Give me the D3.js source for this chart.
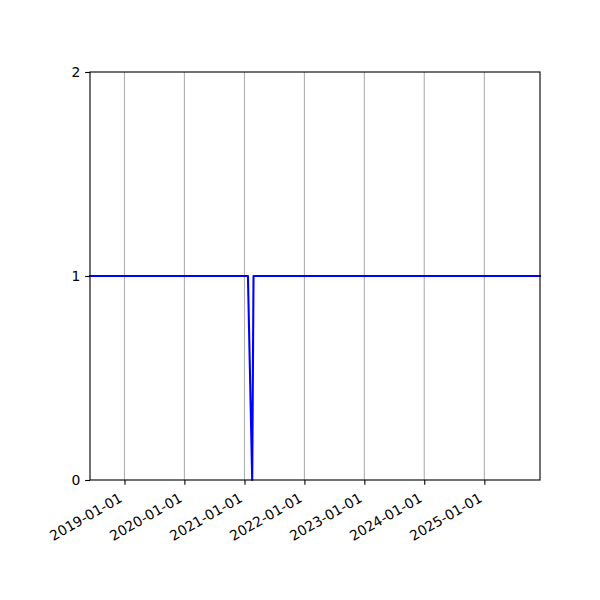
<!DOCTYPE html>
<html>
<head>
<meta charset="utf-8">
<script src="https://cdn.jsdelivr.net/npm/d3@7"></script>
<style>
body{margin:0;background:#fff;}
svg{display:block;}
text{font-family:"DejaVu Sans",sans-serif;font-size:13.9px;fill:#000;}
</style>
</head>
<body>
<svg id="chart" width="600" height="600"></svg>
<script>
const dates = ["2018-06-05","2021-01-22","2021-02-17","2021-02-25","2025-12-06"];
const values = [1, 1, 0, 1, 1];
const xTickLabels = ["2019-01-01","2020-01-01","2021-01-01","2022-01-01","2023-01-01","2024-01-01","2025-01-01"];
const yTicks = [0, 1, 2];

const parse = d3.utcParse("%Y-%m-%d");
const data = dates.map((d,i)=>({date:parse(d), value:values[i]}));

const W=600,H=600, m={left:90,right:60,top:72,bottom:120};
const svg = d3.select("#chart");
const x = d3.scaleUtc().domain(d3.extent(data,d=>d.date)).range([m.left, W-m.right]);
const y = d3.scaleLinear().domain([0,2]).range([H-m.bottom, m.top]);

const xt = xTickLabels.map(parse);

// grid
svg.append("g").selectAll("line").data(xt).join("line")
  .attr("x1",d=>x(d)).attr("x2",d=>x(d))
  .attr("y1",m.top).attr("y2",H-m.bottom)
  .attr("stroke","#b0b0b0").attr("stroke-width",1.11);

// line
svg.append("path").datum(data)
  .attr("fill","none").attr("stroke","#0000ff").attr("stroke-width",2.08)
  .attr("stroke-linejoin","round").attr("stroke-linecap","square")
  .attr("d", d3.line().x(d=>x(d.date)).y(d=>y(d.value)));

// frame
svg.append("rect").attr("x",m.left).attr("y",m.top)
  .attr("width",W-m.left-m.right).attr("height",H-m.top-m.bottom)
  .attr("fill","none").attr("stroke","#000").attr("stroke-width",1.11);

// x axis
const xAxis = svg.append("g").attr("transform",`translate(0,${H-m.bottom})`)
  .call(d3.axisBottom(x).tickValues(xt).tickFormat(d3.utcFormat("%Y-%m-%d")).tickSize(4.86).tickSizeOuter(0));
xAxis.select(".domain").remove();
xAxis.selectAll(".tick line").attr("stroke","#000").attr("stroke-width",1.11);
xAxis.selectAll(".tick text")
  .attr("y",0).attr("dy",0)
  .attr("text-anchor","end")
  .attr("transform","translate(-1.7,20.8) rotate(-30)")
  .style("font-family","DejaVu Sans").style("font-size","13.9px");

// y axis
const yAxis = svg.append("g").attr("transform",`translate(${m.left},0)`)
  .call(d3.axisLeft(y).tickValues(yTicks).tickFormat(d3.format("d")).tickSize(4.86).tickPadding(4.86).tickSizeOuter(0));
yAxis.select(".domain").remove();
yAxis.selectAll(".tick line").attr("stroke","#000").attr("stroke-width",1.11);
yAxis.selectAll(".tick text").attr("dy","0.35em")
  .style("font-family","DejaVu Sans").style("font-size","13.9px");
</script>
</body>
</html>
